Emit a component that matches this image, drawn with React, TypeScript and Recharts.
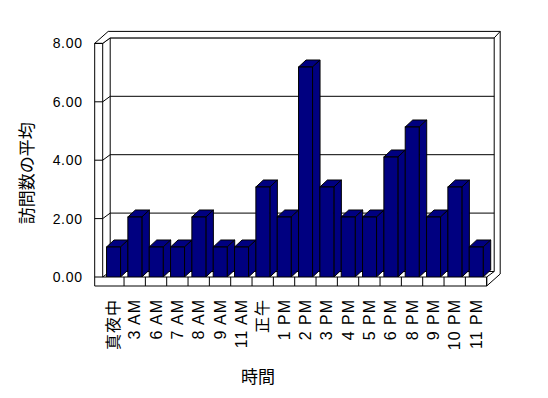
import React from "react";
import {
  BarChart,
  Bar,
  XAxis,
  YAxis,
  CartesianGrid,
  ReferenceArea,
} from "recharts";

const categories = [
  "真夜中", "3 AM", "6 AM", "7 AM", "8 AM", "9 AM", "11 AM", "正午", "1 PM",
  "2 PM", "3 PM", "4 PM", "5 PM", "6 PM", "8 PM", "9 PM", "10 PM", "11 PM",
];
const visits = [1, 2, 1, 1, 2, 1, 1, 3, 2, 7, 3, 2, 2, 4, 5, 2, 3, 1];
const yTicks = [0, 2, 4, 6, 8];
// bars sit slightly in front of the axis plane, so they get their own (hidden) scale
const barAxisMax = 7.787;

const data = categories.map((name, i) => ({ name, visits: visits[i] }));

const FONT = "'Liberation Sans', 'Noto Sans CJK JP', sans-serif";
const NAVY = "#000080";
// oblique depth of the plot box, wall thicknesses
const DX = 7.5;
const DY = -5.5;
const WALL = 8;
const FLOOR = 9;
const BX = 6;
const BY = -6.5;

const pts = (a: number[][]) => a.map((p) => p.join(",")).join(" ");

const Walls = (props: any) => {
  const { x, y, width, height } = props;
  if (x == null || width == null) return null;
  const L = x;
  const R = x + width;
  const T = y;
  const B = y + height;
  const band = width / categories.length;
  const seps = categories.map((_, i) => L + band * (i + 1));
  return (
    <g stroke="#000" strokeWidth={1} fill="none">
      {/* top slab of left + back wall */}
      <polygon
        fill="#fff"
        points={pts([
          [L - WALL, T],
          [L, T],
          [L + DX, T + DY],
          [R + DX, T + DY],
          [R + DX + BX, T + DY + BY],
          [L - WALL + DX + BX, T + DY + BY],
        ])}
      />
      {/* back wall inner edges */}
      <line x1={L + DX} y1={T + DY} x2={L + DX} y2={B + DY} />
      <line x1={R + DX} y1={T + DY} x2={R + DX} y2={B + DY} />
      {/* back wall right side */}
      <line x1={R + DX + BX} y1={T + DY + BY} x2={R + DX + BX} y2={B + FLOOR + DY + BY} />
      {/* floor right side */}
      <line x1={R} y1={B} x2={R + DX} y2={B + DY} />
      <line x1={R} y1={B + FLOOR} x2={R + DX + BX} y2={B + FLOOR + DY + BY} />
      {/* front faces of left wall and floor */}
      <polygon
        points={pts([
          [L - WALL, T],
          [L, T],
          [L, B],
          [R, B],
          [R, B + FLOOR],
          [L - WALL, B + FLOOR],
        ])}
      />
      {seps.map((sx, i) => (
        <line key={i} x1={sx} y1={B} x2={sx} y2={B + FLOOR} />
      ))}
    </g>
  );
};

const GridLine = (props: any) => {
  const { x1, x2, y1, index } = props;
  return (
    <g key={`g-${index}`} stroke="#000" strokeWidth={1}>
      <line x1={x1 + DX} y1={y1 + DY} x2={x2 + DX} y2={y1 + DY} />
      <line x1={x1} y1={y1} x2={x1 + DX} y2={y1 + DY} />
      <line x1={x1 - WALL} y1={y1} x2={x1} y2={y1} />
    </g>
  );
};

const Bar3D = (props: any) => {
  const { x, y, width: w, height: h } = props;
  if (h == null || h <= 0) return null;
  const dx = 7.5;
  const dy = -7;
  return (
    <g stroke="#000" strokeWidth={1} fill={NAVY}>
      <polygon points={pts([[x, y], [x + dx, y + dy], [x + w + dx, y + dy], [x + w, y]])} />
      <polygon points={pts([[x + w, y], [x + w + dx, y + dy], [x + w + dx, y + h + dy], [x + w, y + h]])} />
      <rect x={x} y={y} width={w} height={h} />
    </g>
  );
};

const XTick = (props: any) => {
  const { x, y, payload } = props;
  return (
    <text
      x={x}
      y={y}
      transform={`rotate(-90 ${x} ${y})`}
      textAnchor="end"
      dy="0.35em"
      fontSize={16}
      letterSpacing={1}
      fill="#000"
      fontFamily={FONT}
    >
      {payload.value}
    </text>
  );
};

const YTick = (props: any) => {
  const { x, y, payload } = props;
  return (
    <text
      x={x}
      y={y}
      textAnchor="end"
      dy="0.35em"
      fontSize={14}
      letterSpacing={0.7}
      fill="#000"
      fontFamily={FONT}
    >
      {Number(payload.value).toFixed(2)}
    </text>
  );
};

export default function App() {
  return (
    <div style={{ position: "absolute", left: 0, top: 0, background: "#fff" }}>
      <BarChart
        width={548}
        height={398}
        data={data}
        barCategoryGap="18%"
        margin={{ top: 43.4, right: 61.3, bottom: 0, left: 2.7 }}
        style={{ fontFamily: FONT }}
      >
        <ReferenceArea y1={0} y2={8} yAxisId="main" shape={<Walls />} fill="none" ifOverflow="visible" />
        <CartesianGrid vertical={false} horizontal={GridLine} yAxisId="main" />
        <XAxis
          dataKey="name"
          interval={0}
          height={121}
          tickLine={false}
          axisLine={false}
          tickSize={0}
          tickMargin={22}
          tick={<XTick />}
          label={{
            content: (p: any) => (
              <text
                x={258}
                y={(p.viewBox?.y ?? 277) + 106}
                textAnchor="middle"
                fontSize={17}
                fontFamily={FONT}
                fill="#000"
              >
                時間
              </text>
            ),
          }}
        />
        <YAxis
          yAxisId="main"
          width={100}
          type="number"
          domain={[0, 8]}
          allowDataOverflow
          ticks={yTicks}
          interval={0}
          tickLine={false}
          axisLine={false}
          tickSize={0}
          tickMargin={-40}
          tick={<YTick />}
          label={{
            content: (p: any) => {
              const cx = 27;
              const cy = (p.viewBox?.y ?? 43) + (p.viewBox?.height ?? 234) / 2 + 13;
              return (
                <text
                  x={cx}
                  y={cy}
                  transform={`rotate(-90 ${cx} ${cy})`}
                  textAnchor="middle"
                  dy="0.35em"
                  fontSize={17}
                  fontFamily={FONT}
                  fill="#000"
                >
                  訪問数の平均
                </text>
              );
            },
          }}
        />
        <YAxis yAxisId="bars" hide type="number" domain={[0, barAxisMax]} allowDataOverflow />
        <Bar
          yAxisId="bars"
          dataKey="visits"
          shape={<Bar3D />}
          isAnimationActive={false}
        />
      </BarChart>
    </div>
  );
}
